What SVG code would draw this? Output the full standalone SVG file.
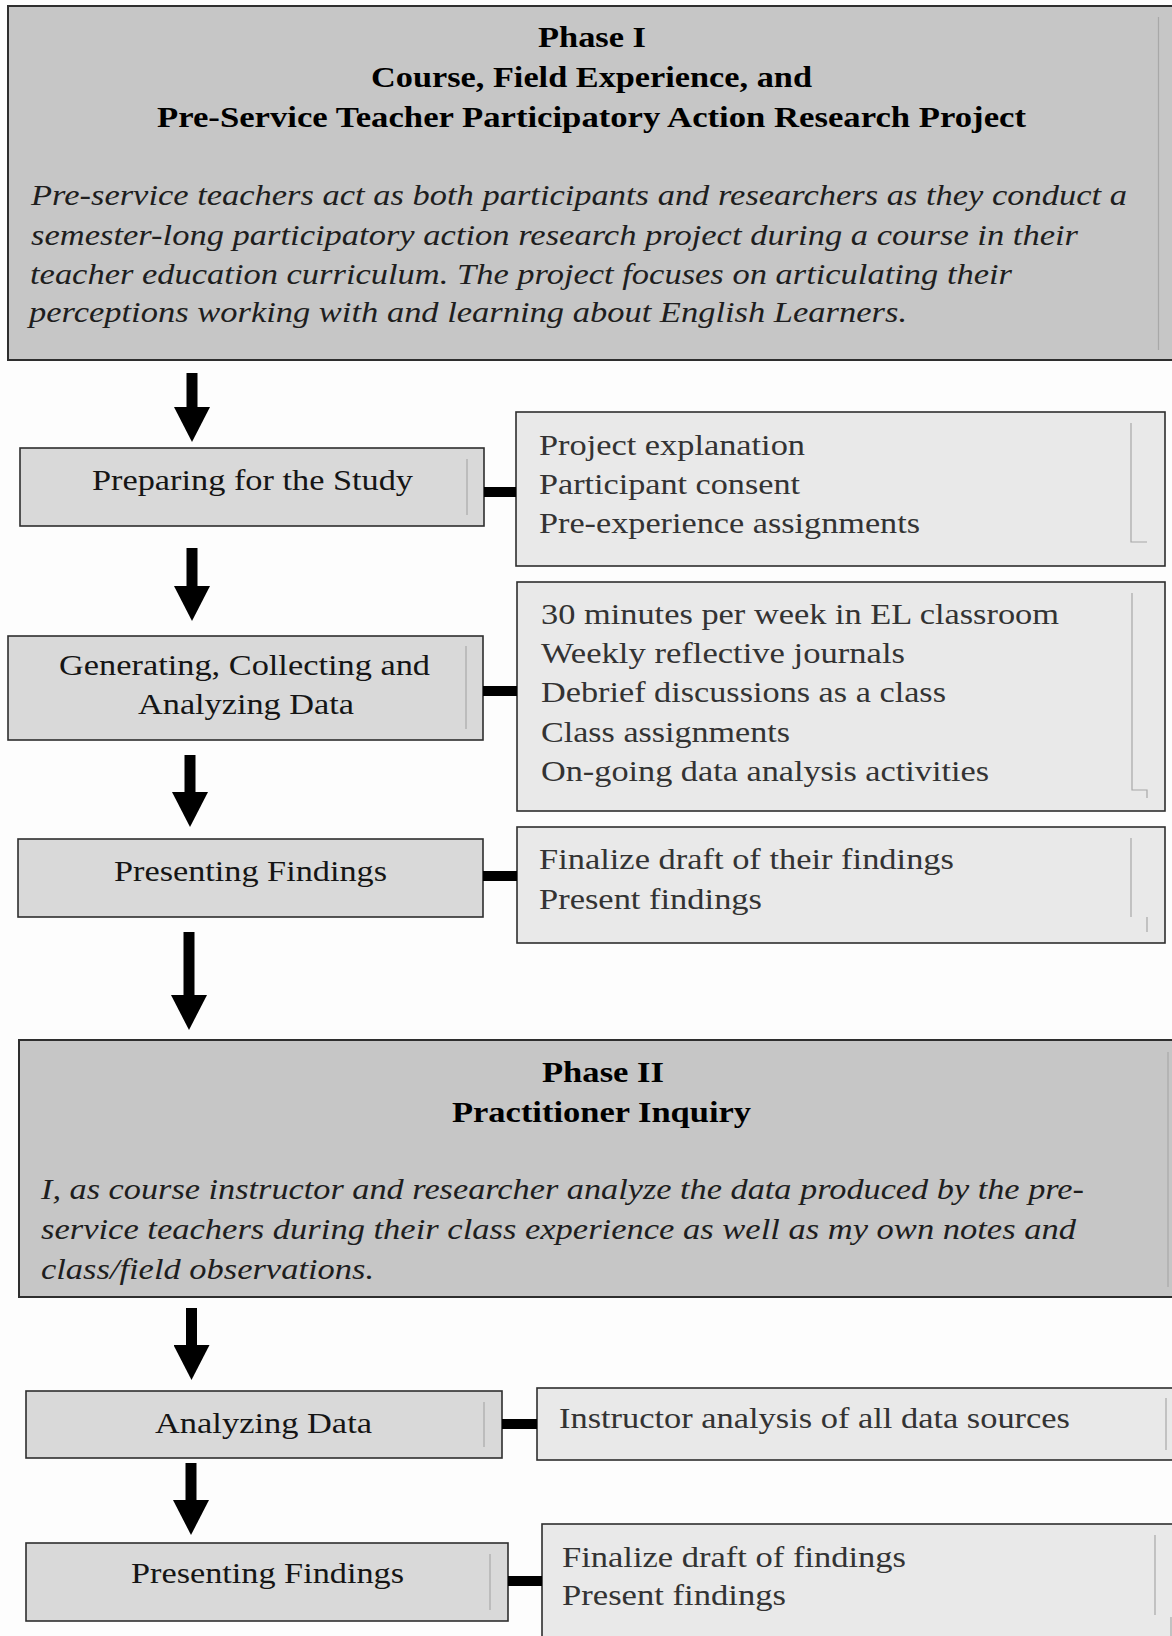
<svg xmlns="http://www.w3.org/2000/svg" width="1172" height="1636" viewBox="0 0 1172 1636">
  <style>
    .phase { fill: #c6c6c6; stroke: #2e2e2e; stroke-width: 2; }
    .step { fill: #d9d9d9; stroke: #2e2e2e; stroke-width: 1.6; }
    .list { fill: #e9e9e9; stroke: #2e2e2e; stroke-width: 1.6; }
    .frame { fill: none; stroke: #a8a8a8; stroke-width: 1.2; }
    text { font-family: "Liberation Serif", "Times New Roman", serif; font-size: 30px; }
    .title { font-weight: bold; fill: #000; }
    .desc { font-style: italic; fill: #1e1e1e; }
    .label { fill: #151515; }
    .item { fill: #333; }
    .flow { stroke: #000; stroke-width: 11; fill: none; marker-end: url(#head); }
    .link { stroke: #000; stroke-width: 10; }
  </style>
  <defs>
    <marker id="head" markerUnits="userSpaceOnUse" markerWidth="35" markerHeight="36" viewBox="0 0 35 36" refX="0" refY="18" orient="auto">
      <path d="M0,0 L35,18 L0,36 Z" fill="#000"/>
    </marker>
  </defs>

  <rect x="0" y="0" width="1172" height="1636" fill="#fdfdfd"/>

  <!-- Phase I -->
  <g id="phase1">
    <rect class="phase" x="8" y="6" width="1176" height="354"/>
    <line class="frame" x1="1158.5" y1="17" x2="1158.5" y2="350"/>
    <text class="title" x="538" y="47" textLength="108" lengthAdjust="spacingAndGlyphs">Phase I</text>
    <text class="title" x="371" y="87" textLength="441" lengthAdjust="spacingAndGlyphs">Course, Field Experience, and</text>
    <text class="title" x="157" y="127" textLength="869" lengthAdjust="spacingAndGlyphs">Pre-Service Teacher Participatory Action Research Project</text>
    <text class="desc" x="31" y="205" textLength="1096" lengthAdjust="spacingAndGlyphs">Pre-service teachers act as both participants and researchers as they conduct a</text>
    <text class="desc" x="31" y="245" textLength="1047" lengthAdjust="spacingAndGlyphs">semester-long participatory action research project during a course in their</text>
    <text class="desc" x="30" y="284" textLength="982" lengthAdjust="spacingAndGlyphs">teacher education curriculum. The project focuses on articulating their</text>
    <text class="desc" x="29" y="322" textLength="878" lengthAdjust="spacingAndGlyphs">perceptions working with and learning about English Learners.</text>
  </g>

  <!-- Phase I steps -->
  <g id="preparing">
    <rect class="step" x="20" y="448" width="464" height="78"/>
    <line class="frame" x1="467" y1="459" x2="467" y2="515"/>
    <text class="label" x="92" y="490" textLength="321" lengthAdjust="spacingAndGlyphs">Preparing for the Study</text>
  </g>
  <g id="preparing-items">
    <rect class="list" x="516" y="412" width="649" height="154"/>
    <path class="frame" d="M1131,423 V542 H1147"/>
    <text class="item" x="539" y="455" textLength="266" lengthAdjust="spacingAndGlyphs">Project explanation</text>
    <text class="item" x="539" y="494" textLength="261" lengthAdjust="spacingAndGlyphs">Participant consent</text>
    <text class="item" x="539" y="533" textLength="381" lengthAdjust="spacingAndGlyphs">Pre-experience assignments</text>
  </g>

  <g id="generating">
    <rect class="step" x="8" y="636" width="475" height="104"/>
    <line class="frame" x1="466" y1="646" x2="466" y2="729"/>
    <text class="label" x="59" y="675" textLength="371" lengthAdjust="spacingAndGlyphs">Generating, Collecting and</text>
    <text class="label" x="138" y="714" textLength="216" lengthAdjust="spacingAndGlyphs">Analyzing Data</text>
  </g>
  <g id="generating-items">
    <rect class="list" x="517" y="582" width="648" height="229"/>
    <path class="frame" d="M1132,593 V790 H1147 V798"/>
    <text class="item" x="541" y="624" textLength="518" lengthAdjust="spacingAndGlyphs">30 minutes per week in EL classroom</text>
    <text class="item" x="541" y="663" textLength="364" lengthAdjust="spacingAndGlyphs">Weekly reflective journals</text>
    <text class="item" x="541" y="702" textLength="405" lengthAdjust="spacingAndGlyphs">Debrief discussions as a class</text>
    <text class="item" x="541" y="742" textLength="249" lengthAdjust="spacingAndGlyphs">Class assignments</text>
    <text class="item" x="541" y="781" textLength="448" lengthAdjust="spacingAndGlyphs">On-going data analysis activities</text>
  </g>

  <g id="presenting">
    <rect class="step" x="18" y="839" width="465" height="78"/>
    <text class="label" x="114" y="881" textLength="273" lengthAdjust="spacingAndGlyphs">Presenting Findings</text>
  </g>
  <g id="presenting-items">
    <rect class="list" x="517" y="827" width="648" height="116"/>
    <path class="frame" d="M1131,838 V917 M1147,917 V932"/>
    <text class="item" x="539" y="869" textLength="415" lengthAdjust="spacingAndGlyphs">Finalize draft of their findings</text>
    <text class="item" x="539" y="909" textLength="223" lengthAdjust="spacingAndGlyphs">Present findings</text>
  </g>

  <!-- Phase II -->
  <g id="phase2">
    <rect class="phase" x="19" y="1040" width="1165" height="257"/>
    <line class="frame" x1="1168" y1="1052" x2="1168" y2="1287"/>
    <text class="title" x="542" y="1082" textLength="122" lengthAdjust="spacingAndGlyphs">Phase II</text>
    <text class="title" x="452" y="1122" textLength="299" lengthAdjust="spacingAndGlyphs">Practitioner Inquiry</text>
    <text class="desc" x="41" y="1199" textLength="1043" lengthAdjust="spacingAndGlyphs">I, as course instructor and researcher analyze the data produced by the pre-</text>
    <text class="desc" x="41" y="1239" textLength="1035" lengthAdjust="spacingAndGlyphs">service teachers during their class experience as well as my own notes and</text>
    <text class="desc" x="41" y="1279" textLength="333" lengthAdjust="spacingAndGlyphs">class/field observations.</text>
  </g>

  <!-- Phase II steps -->
  <g id="analyzing">
    <rect class="step" x="26" y="1391" width="476" height="67"/>
    <line class="frame" x1="484" y1="1402" x2="484" y2="1447"/>
    <text class="label" x="155" y="1433" textLength="217" lengthAdjust="spacingAndGlyphs">Analyzing Data</text>
  </g>
  <g id="analyzing-items">
    <rect class="list" x="537" y="1388" width="645" height="72"/>
    <line class="frame" x1="1166" y1="1398" x2="1166" y2="1450"/>
    <text class="item" x="559" y="1428" textLength="511" lengthAdjust="spacingAndGlyphs">Instructor analysis of all data sources</text>
  </g>

  <g id="presenting2">
    <rect class="step" x="26" y="1543" width="482" height="78"/>
    <line class="frame" x1="490" y1="1554" x2="490" y2="1610"/>
    <text class="label" x="131" y="1583" textLength="273" lengthAdjust="spacingAndGlyphs">Presenting Findings</text>
  </g>
  <g id="presenting2-items">
    <rect class="list" x="542" y="1524" width="640" height="130"/>
    <path class="frame" d="M1155,1535 V1615 M1171,1617 V1636"/>
    <text class="item" x="562" y="1567" textLength="344" lengthAdjust="spacingAndGlyphs">Finalize draft of findings</text>
    <text class="item" x="562" y="1605" textLength="224" lengthAdjust="spacingAndGlyphs">Present findings</text>
  </g>

  <!-- Connectors -->
  <g id="connectors">
    <line class="flow" x1="192" y1="373" x2="192" y2="407"/>
    <line class="flow" x1="192" y1="548" x2="192" y2="586"/>
    <line class="flow" x1="190" y1="755" x2="190" y2="792"/>
    <line class="flow" x1="189" y1="932" x2="189" y2="995"/>
    <line class="flow" x1="191.5" y1="1308" x2="191.5" y2="1345"/>
    <line class="flow" x1="191" y1="1463" x2="191" y2="1500"/>
    <line class="link" x1="484" y1="492" x2="516" y2="492"/>
    <line class="link" x1="483" y1="691" x2="517" y2="691"/>
    <line class="link" x1="483" y1="876" x2="517" y2="876"/>
    <line class="link" x1="502" y1="1424" x2="537" y2="1424"/>
    <line class="link" x1="508" y1="1581" x2="542" y2="1581"/>
  </g>
</svg>
